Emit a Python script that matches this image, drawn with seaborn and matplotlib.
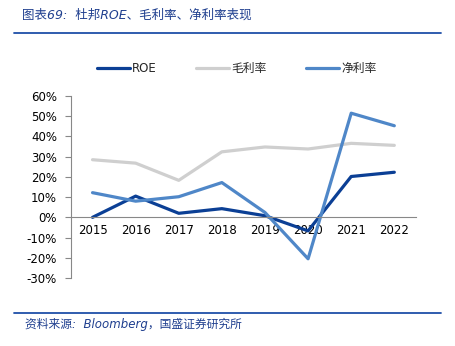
import matplotlib
matplotlib.use("Agg")
import matplotlib.pyplot as plt
import seaborn as sns
import pandas as pd
import numpy as np
from matplotlib.lines import Line2D
from matplotlib.ticker import FixedLocator, FuncFormatter

years = ["2015", "2016", "2017", "2018", "2019", "2020", "2021", "2022"]
roe = [0.0, 10.5, 2.0, 4.3, 0.8, -6.7, 20.2, 22.3]
gross = [28.5, 26.8, 18.3, 32.4, 34.8, 33.8, 36.6, 35.6]
net = [12.2, 8.0, 10.2, 17.2, 2.4, -20.5, 51.5, 45.3]
series_names = ["ROE", "毛利率", "净利率"]
colors = ["#0B3F95", "#CFCFCF", "#4F87C8"]
yticks = [-30, -20, -10, 0, 10, 20, 30, 40, 50, 60]

sns.set_theme(style="white")
plt.rcParams['font.family'] = ['DejaVu Sans', 'Noto Sans CJK SC']
plt.rcParams['axes.unicode_minus'] = False

df = pd.DataFrame({
    "idx": list(range(len(years))) * 3,
    "value": roe + gross + net,
    "series": [series_names[0]] * len(years) + [series_names[1]] * len(years) + [series_names[2]] * len(years),
})

fig = plt.figure(figsize=(4.55, 3.46), dpi=100)
ax = fig.add_axes([0.156, 0.1965, 0.758, 0.526])

# draw gross first (behind), then net, then ROE? Keep reference order: ROE on top of others
order_draw = [series_names[1], series_names[2], series_names[0]]
sns.lineplot(data=df, x="idx", y="value", hue="series", hue_order=series_names,
             palette=colors, linewidth=2.3, sort=False, legend=False, ax=ax)

ax.set_xlim(-0.5, len(years) - 0.5)
ax.set_ylim(-30, 60)
ax.set_xlabel("")
ax.set_ylabel("")

for s in ["top", "right"]:
    ax.spines[s].set_visible(False)
ax.spines["bottom"].set_position(("data", 0))
ax.spines["left"].set_color("#888888")
ax.spines["bottom"].set_color("#888888")
ax.spines["left"].set_linewidth(0.8)
ax.spines["bottom"].set_linewidth(0.8)

ax.yaxis.set_major_locator(FixedLocator(yticks))
ax.yaxis.set_major_formatter(FuncFormatter(lambda v, p: f"{int(v)}%"))
ax.tick_params(axis="y", which="major", direction="out", length=4, width=0.8, color="#888888",
               labelsize=8.5, labelcolor="black", pad=6)

ax.set_xticks(range(len(years)))
ax.set_xticklabels(years)
ax.xaxis.set_minor_locator(FixedLocator(np.arange(-0.5, len(years), 1.0)))
ax.tick_params(axis="x", which="major", length=0, labelsize=8.5, labelcolor="black", pad=5)
ax.tick_params(axis="x", which="minor", direction="out", length=4, width=0.8, color="#888888")
ax.tick_params(axis="both", bottom=True, left=True)
ax.grid(False)

handles = [Line2D([0], [0], color=c, lw=2.3) for c in colors]
fig.legend(handles, series_names, loc="center", bbox_to_anchor=(0.52, 0.803), ncol=3,
           frameon=False, fontsize=8.5, handlelength=2.8, columnspacing=3.3, handletextpad=0.2)

title_color = "#1F3F8F"
fig.text(0.048, 0.955, "图表69:  杜邦ROE、毛利率、净利率表现", fontsize=9, style="italic",
         color=title_color, va="center", ha="left", family=['DejaVu Sans', 'Noto Sans CJK SC'])
fig.add_artist(Line2D([0.03, 0.97], [0.905, 0.905], color="#1F4FA8", lw=1.3, transform=fig.transFigure))
fig.add_artist(Line2D([0.03, 0.97], [0.095, 0.095], color="#1F4FA8", lw=1.3, transform=fig.transFigure))
fig.text(0.055, 0.063, "资料来源:  Bloomberg，国盛证券研究所", fontsize=8.5, style="italic",
         color=title_color, va="center", ha="left", family=['DejaVu Sans', 'Noto Sans CJK SC'])

fig.savefig("out.png", dpi=100)
